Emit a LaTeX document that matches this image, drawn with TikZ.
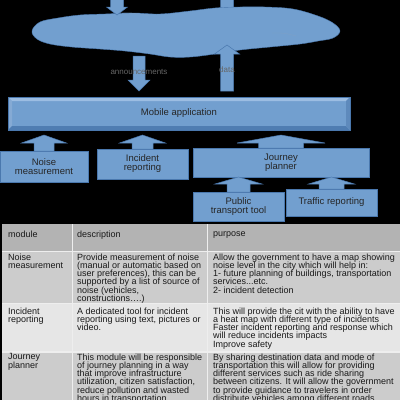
\documentclass[tikz,border=0pt]{standalone}
\usepackage{fontspec}
\setmainfont{Liberation Sans}
\usetikzlibrary{calc}

\definecolor{cloudblue}{HTML}{729FCF}
\definecolor{edgeblue}{HTML}{4A78AE}
\definecolor{bevlight}{HTML}{9CBDE2}
\definecolor{bevdark}{HTML}{4F7DB2}
\definecolor{headgray}{HTML}{B3B3B3}
\definecolor{rowgray}{HTML}{CCCCCC}
\definecolor{rowlight}{HTML}{E6E6E6}
\definecolor{sepgray}{HTML}{EEEEEE}

\newcommand\boxfont{\fontsize{9.5}{9}\selectfont\lineskiplimit=-10pt}
\newcommand\cellfont{\fontsize{9}{8.2}\selectfont\lineskiplimit=-10pt}

% block arrow: tail, tip, half shaft, half head, head length (signed)
\newcommand\blkarr[5]{%
  \draw[blkarrow] let \p1=(#1), \p2=(#2) in
    ({\x1-#3pt},\y1) -- ({\x1-#3pt},{\y2-(#5)*1pt}) -- ({\x1-#4pt},{\y2-(#5)*1pt})
    -- (\x1,\y2) -- ({\x1+#4pt},{\y2-(#5)*1pt}) -- ({\x1+#3pt},{\y2-(#5)*1pt})
    -- ({\x1+#3pt},\y1) -- cycle;}

\begin{document}
\begin{tikzpicture}[x=1pt, y=-1pt,
  modbox/.style={draw=edgeblue, fill=cloudblue, line width=0.5pt, align=center,
    font=\boxfont, text=black!85, inner sep=0pt, outer sep=0pt},
  blkarrow/.style={draw=edgeblue, fill=cloudblue, line width=0.5pt},
  flowlabel/.style={font=\fontsize{8}{8}\selectfont, text=black!60, inner sep=0pt},
  cell/.style={anchor=north west, inner sep=0pt, align=left, font=\cellfont, text=black!90}]

\useasboundingbox (0,0) rectangle (400,400);
\clip (0,0) rectangle (400,400);
\fill[black] (0,0) rectangle (400,400);

% Arrow leaving the cloud at the top (behind the cloud)
\coordinate (out1) at (227,20);
\coordinate (out1tip) at (227,-20);
\blkarr{out1}{out1tip}{6.5}{12}{8}

% Cloud
\fill[cloudblue, draw=edgeblue, line width=0.4pt] plot[smooth cycle, tension=0.6] coordinates {
  (32,31) (40,22) (58,18) (80,15) (105,14) (133,13) (160,14) (190,11) (215,8)
  (240,7) (265,7) (293,9) (318,16) (333,23) (340,31) (333,38) (318,41) (300,44)
  (270,47) (240,50) (215,54) (190,57) (170,57) (150,54) (125,51) (100,49)
  (72,47) (50,44) (37,39)};
\draw[edgeblue!70, line width=0.3pt] (120,13) .. controls (135,13) .. (150,16);
\draw[edgeblue!70, line width=0.3pt] (272,33) .. controls (285,33) .. (296,36);
\draw[edgeblue!70, line width=0.3pt] (160,51) .. controls (165,53) .. (170,57);

\coordinate (in1) at (117,-6);
\coordinate (in1tip) at (117,15);
\coordinate (anntail) at (139,56);
\coordinate (anntip) at (139,91);
\coordinate (datatail) at (227,91);
\coordinate (datatip) at (227,45);

\blkarr{in1}{in1tip}{6.5}{10.5}{-8}
\blkarr{anntail}{anntip}{6}{11}{-11}
\blkarr{datatail}{datatip}{6.5}{12.5}{9}

\node[flowlabel] (annlabel) at (139,72) {announcements};
\node[flowlabel] (datalabel) at (227,70) {data};

% Mobile application
\node[modbox, minimum width=342, minimum height=33] (app) at (179,113.5) {Mobile application};
\fill[bevlight] (app.north west) -- (app.north east) -- ($(app.north east)+(-4,4)$) -- ($(app.north west)+(4,4)$) -- cycle;
\fill[bevlight!70!bevdark] (app.north west) -- ($(app.north west)+(4,4)$) -- ($(app.south west)+(4,-4)$) -- (app.south west) -- cycle;
\fill[bevdark] (app.south west) -- ($(app.south west)+(4,-4)$) -- ($(app.south east)+(-4,-4)$) -- (app.south east) -- cycle;
\fill[bevdark!80!bevlight] (app.north east) -- (app.south east) -- ($(app.south east)+(-4,-4)$) -- ($(app.north east)+(-4,4)$) -- cycle;
\draw[edgeblue, line width=0.5pt] (app.north west) rectangle (app.south east);

% Modules
\node[modbox, minimum width=88, minimum height=31] (noise) at (44,166.5) {Noise\\measurement};
\node[modbox, minimum width=91, minimum height=30] (incident) at (142.5,164) {Incident\\reporting};
\node[modbox, minimum width=176, minimum height=29] (journey) at (281,162.5) {Journey\\planner};
\node[modbox, minimum width=91, minimum height=29] (public) at (238.5,206.5) {Public\\transport tool};
\node[modbox, minimum width=91, minimum height=27] (traffic) at (331.5,202.5) {Traffic reporting};

\blkarr{noise.north}{$(noise.north |- app.south)+(0,5)$}{10}{22.5}{8}
\blkarr{incident.north}{$(incident.north |- app.south)+(0,5)$}{10.5}{23}{8}
\blkarr{journey.north}{$(journey.north |- app.south)+(0,5)$}{22.5}{44}{8}
\blkarr{public.north}{public.north |- journey.south}{11.5}{23.5}{7}
\blkarr{traffic.north}{traffic.north |- journey.south}{12.5}{23}{7}

% Table
\fill[sepgray] (1.5,223.5) rectangle (400,400);
\fill[headgray] (2,224) rectangle (71.5,250.5);
\fill[headgray] (73,224) rectangle (206.5,250.5);
\fill[headgray] (208,224) rectangle (400,250.5);
\fill[rowgray] (2,252) rectangle (71.5,302.5);
\fill[rowgray] (73,252) rectangle (206.5,302.5);
\fill[rowgray] (208,252) rectangle (400,302.5);
\fill[rowlight] (2,304) rectangle (71.5,351);
\fill[rowlight] (73,304) rectangle (206.5,351);
\fill[rowlight] (208,304) rectangle (400,351);
\fill[rowgray] (2,352.5) rectangle (71.5,400);
\fill[rowgray] (73,352.5) rectangle (206.5,400);
\fill[rowgray] (208,352.5) rectangle (400,400);

\node[cell] (hmod) at (8,231) {module};
\node[cell] (hdesc) at (77,231) {description};
\node[cell] (hpurp) at (213,231) {purpose};

\node[cell] (noisename) at (8,253.5) {Noise\\measurement};
\node[cell] (noisedesc) at (77,253.5) {Provide measurement of noise\\(manual or automatic based on\\user preferences), this can be\\supported by a list of source of\\noise (vehicles,\\constructions….)};
\node[cell] (noisepurp) at (213,253.5) {Allow the government to have a map showing\\noise level in the city which will help in:\\1- future planning of buildings, transportation\\services...etc.\\2- incident detection};

\node[cell] (incname) at (8,307.5) {Incident\\reporting};
\node[cell] (incdesc) at (77,307.5) {A dedicated tool for incident\\reporting using text, pictures or\\video.};
\node[cell] (incpurp) at (213,307.5) {This will provide the cit with the ability to have\\a heat map with different type of incidents\\Faster incident reporting and response which\\will reduce incidents impacts\\Improve safety};

\node[cell] (jrnname) at (8,353.5) {Journey\\planner};
\node[cell] (jrndesc) at (77,353.5) {This module will be responsible\\of journey planning in a way\\that improve infrastructure\\utilization, citizen satisfaction,\\reduce pollution and wasted\\hours in transportation};
\node[cell] (jrnpurp) at (213,353.5) {By sharing destination data and mode of\\transportation this will allow for providing\\different services such as ride sharing\\between citizens. It will allow the government\\to provide guidance to travelers in order\\distribute vehicles among different roads};

\end{tikzpicture}
\end{document}
